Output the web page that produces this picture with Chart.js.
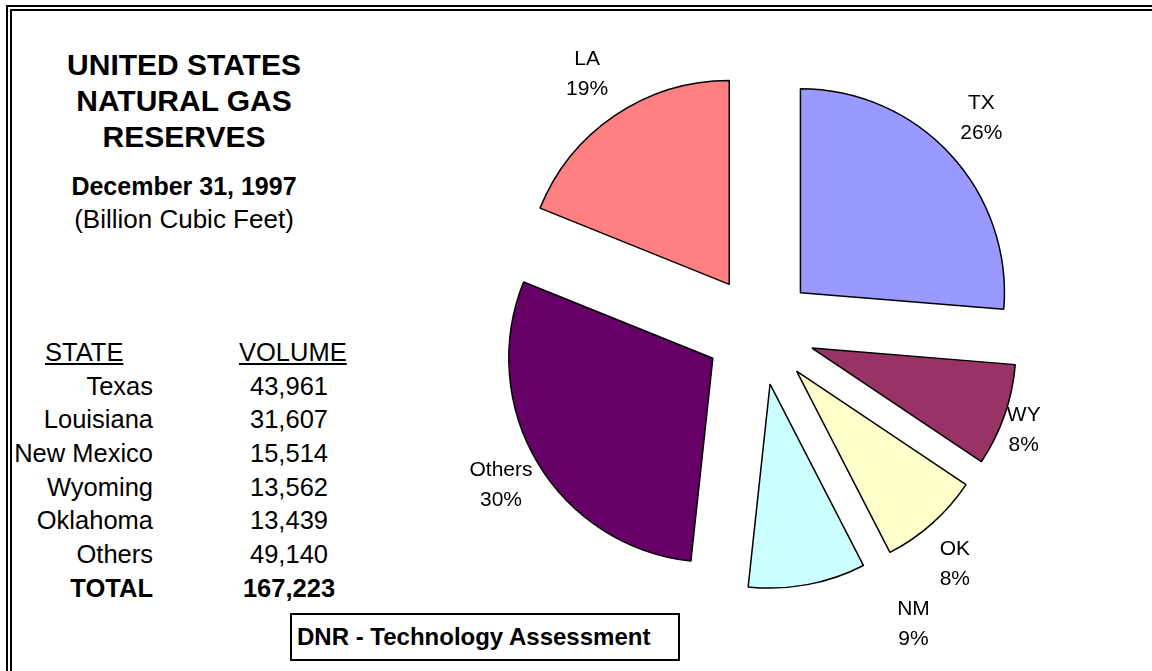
<!DOCTYPE html>
<html>
<head>
<meta charset="utf-8">
<title>US Natural Gas Reserves 1997</title>
<script src="https://cdn.jsdelivr.net/npm/chart.js@4/dist/chart.umd.min.js"></script>
<style>
  html, body { margin: 0; padding: 0; background: #fff; }
  body { width: 1152px; height: 671px; position: relative; overflow: hidden;
         font-family: "Liberation Sans", Arial, sans-serif; color: #000; }
  .frame-outer { position: absolute; left: 6px; top: 5px; right: -20px; bottom: -20px;
                 border-top: 2px solid #000; border-left: 2px solid #000; }
  .frame-inner { position: absolute; left: 10px; top: 9px; right: -20px; bottom: -20px;
                 border-top: 2px solid #000; border-left: 2px solid #000; }
  #pie { position: absolute; left: 0; top: 0; }
  .title { position: absolute; left: 34px; top: 47px; width: 300px; text-align: center;
           font-weight: bold; font-size: 30px; line-height: 36px; }
  .date { position: absolute; left: 34px; top: 170px; width: 300px; text-align: center;
          font-weight: bold; font-size: 25px; line-height: 32px; }
  .units { position: absolute; left: 34px; top: 203px; width: 300px; text-align: center;
           font-size: 26px; line-height: 32px; }
  #table { position: absolute; left: 0; top: 336px; font-size: 25.5px; line-height: 33.7px; }
  .row { position: relative; height: 33.7px; width: 360px; }
  .row .st { position: absolute; right: 207px; white-space: nowrap; }
  .row .vol { position: absolute; left: 239px; width: 100px; text-align: center; }
  .row.head .st { right: auto; left: 45px; text-decoration: underline; }
  .row.head .vol { text-decoration: underline; }
  .row.total { font-weight: bold; }
  .note { position: absolute; left: 290px; top: 613px; width: 390px; height: 48px;
          box-sizing: border-box; border: 2px solid #000; padding-left: 5px;
          font-weight: bold; font-size: 24px; line-height: 44px; white-space: nowrap; }
</style>
</head>
<body>
<div class="frame-outer"></div>
<div class="frame-inner"></div>

<div class="title">UNITED STATES<br>NATURAL GAS<br>RESERVES</div>
<div class="date">December 31, 1997</div>
<div class="units">(Billion Cubic Feet)</div>
<div id="table"></div>
<div class="note">DNR - Technology Assessment</div>

<canvas id="pie" width="1152" height="671"></canvas>

<script>
// table data (as listed on the left)
const tableStates = ['Texas', 'Louisiana', 'New Mexico', 'Wyoming', 'Oklahoma', 'Others'];
const tableVolumes = [43961, 31607, 15514, 13562, 13439, 49140];

// pie data, clockwise from 12 o'clock
const pieCodes = ['TX', 'WY', 'OK', 'NM', 'Others', 'LA'];
const pieVolumes = [43961, 13562, 13439, 15514, 49140, 31607];
const piePercents = [26, 8, 8, 9, 30, 19];

const pieColors = ['#9999FF', '#993366', '#FFFFCC', '#CCFFFF', '#660066', '#FF8080'];

// left side table
const fmt = n => n.toLocaleString('en-US');
const tableEl = document.querySelector('#table');
function addRow(cls, state, vol) {
	const row = document.createElement('div');
	row.className = 'row ' + cls;
	row.innerHTML = `<span class="st">${state}</span><span class="vol">${vol}</span>`;
	tableEl.appendChild(row);
}
addRow('head', 'STATE', 'VOLUME');
tableStates.forEach((s, i) => addRow('', s, fmt(tableVolumes[i])));
addRow('total', 'TOTAL', fmt(tableVolumes.reduce((a, b) => a + b, 0)));

// exploded pie: push every slice out along its middle angle
const EXPLODE = 55;
const arcDraw = Chart.ArcElement.prototype.draw;
Chart.ArcElement.prototype.draw = function(ctx) {
	const mid = (this.startAngle + this.endAngle) / 2;
	ctx.save();
	ctx.translate(Math.cos(mid) * EXPLODE, Math.sin(mid) * EXPLODE);
	arcDraw.call(this, ctx);
	ctx.restore();
};

// label placement around the pie: [turn in degrees, distance from centre]
const labelPlace = [[-1, 306], [1.5, 282], [2, 305], [-17, 332], [0, 302], [0, 309]];

const sliceLabels = {
	id: 'sliceLabels',
	afterDatasetsDraw(chart) {
		const c = chart.ctx;
		const arcs = chart.getDatasetMeta(0).data;
		c.save();
		c.font = '21px "Liberation Sans", Arial, sans-serif';
		c.fillStyle = '#000';
		c.textAlign = 'center';
		c.textBaseline = 'middle';
		arcs.forEach((arc, i) => {
			const [turn, dist] = labelPlace[i];
			const a = (arc.startAngle + arc.endAngle) / 2 + turn * Math.PI / 180;
			const x = arc.x + Math.cos(a) * dist;
			const y = arc.y + Math.sin(a) * dist;
			c.fillText(pieCodes[i], x, y - 15);
			c.fillText(piePercents[i] + '%', x, y + 15);
		});
		c.restore();
	}
};

const pieChart = new Chart(document.querySelector('#pie'), {
	type: 'pie',
	data: {
		labels: pieCodes,
		datasets: [{
			data: pieVolumes,
			backgroundColor: pieColors,
			borderColor: '#000',
			borderWidth: 1.5,
			radius: 204
		}]
	},
	options: {
		responsive: false,
		animation: false,
		layout: { padding: { left: 368, right: 0, top: 0, bottom: 11 } },
		plugins: {
			legend: { display: false },
			tooltip: { enabled: false }
		}
	},
	plugins: [sliceLabels]
});
</script>
</body>
</html>
